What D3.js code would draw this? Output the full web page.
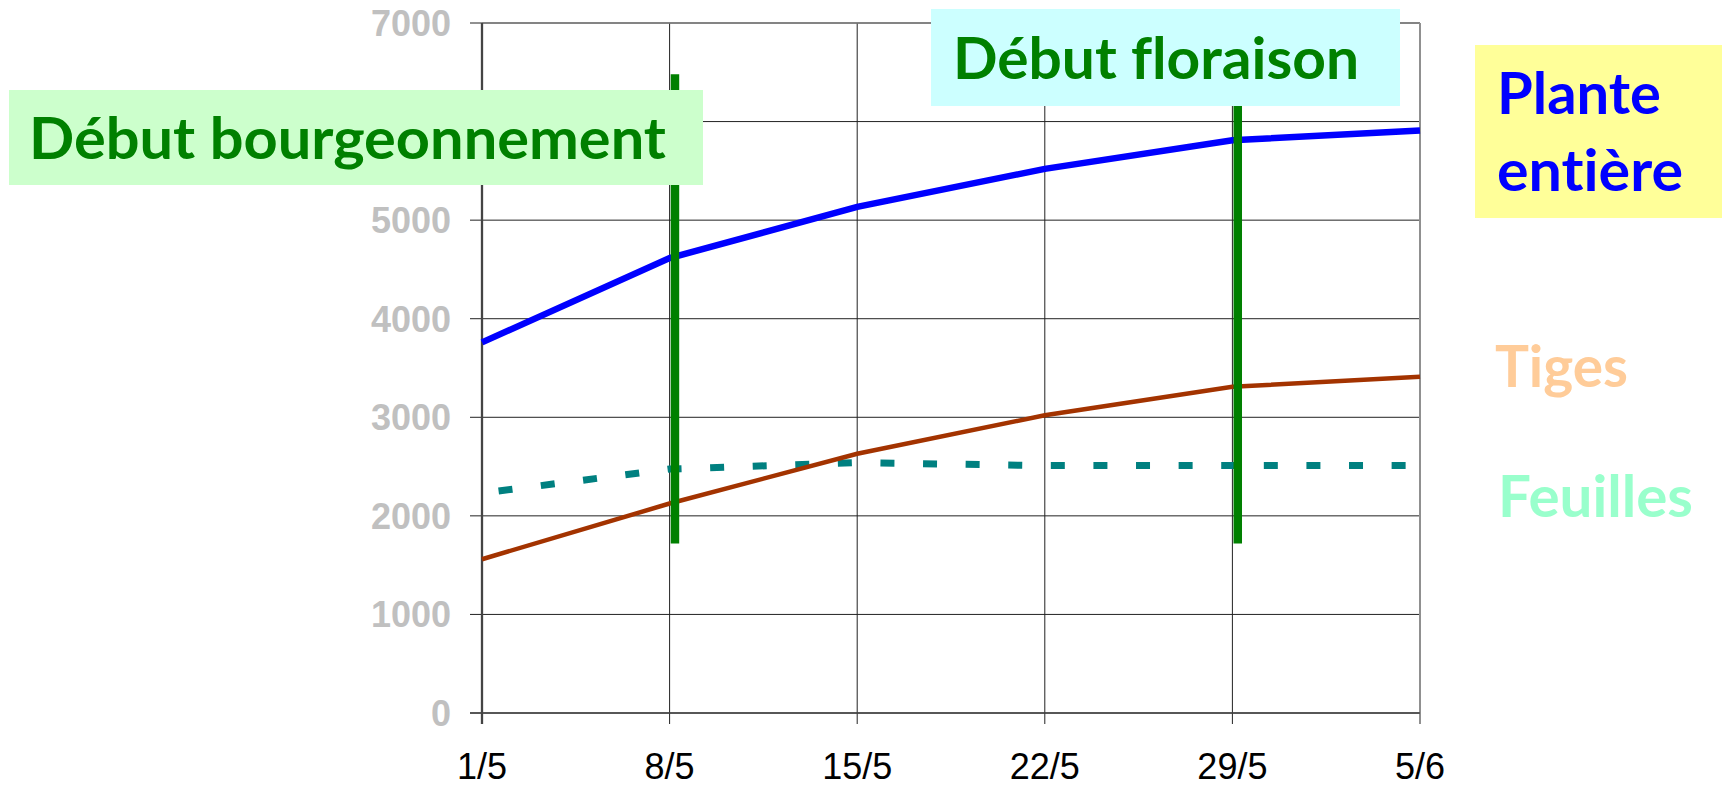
<!DOCTYPE html>
<html>
<head>
<meta charset="utf-8">
<script src="https://cdn.jsdelivr.net/npm/d3@7"></script>
<style>
  body { margin: 0; background: #fff; }
  .ytick { font-family: "Liberation Sans", Arial, sans-serif; font-weight: bold; font-size: 36px; fill: #c0c0c0; }
  .xtick { font-family: "Liberation Sans", Arial, sans-serif; font-size: 36px; fill: #000; }
  .note { font-family: Lato, "Open Sans", sans-serif; font-weight: bold; font-size: 58px;
          font-variant-ligatures: none; font-feature-settings: "liga" 0, "dlig" 0; }
</style>
</head>
<body>
<div id="chart"></div>
<script>
// dates (day offsets from 1/5) and tick labels
var dates = ["1/5", "8/5", "15/5", "22/5", "29/5", "5/6"];
var days = [0, 7, 14, 21, 28, 35];
var yTicks = [0, 1000, 2000, 3000, 4000, 5000, 6000, 7000];

// series values
var plante = [3760, 4615, 5135, 5520, 5810, 5910];
var tiges = [1560, 2125, 2630, 3020, 3310, 3410];
var feuilles = [2230, 2475, 2540, 2510, 2510, 2510];

// stage markers (vertical bars)
var markerDays = [7.2, 28.2];
var markerRange = [1720, 6480];

var margin = { top: 23, right: 302, bottom: 73, left: 482 };
var width = 1722 - margin.left - margin.right;
var height = 786 - margin.top - margin.bottom;

var svg = d3.select("#chart").append("svg")
  .attr("width", 1722)
  .attr("height", 786);

var g = svg.append("g")
  .attr("transform", "translate(" + margin.left + "," + margin.top + ")");

var x = d3.scaleLinear().domain([0, 35]).range([0, width]);
var y = d3.scaleLinear().domain([0, 7000]).range([height, 0]);

// horizontal grid + y ticks
g.selectAll(".hgrid").data(yTicks).enter().append("line")
  .attr("class", "hgrid")
  .attr("x1", -12).attr("x2", width)
  .attr("y1", function(d){ return y(d); })
  .attr("y2", function(d){ return y(d); })
  .attr("stroke", "#222").attr("stroke-width", 1);

// vertical grid + x ticks
g.selectAll(".vgrid").data(days).enter().append("line")
  .attr("class", "vgrid")
  .attr("x1", function(d){ return x(d); })
  .attr("x2", function(d){ return x(d); })
  .attr("y1", 0).attr("y2", height + 11)
  .attr("stroke", "#222").attr("stroke-width", 1);

// plot border
g.append("line").attr("x1", 0).attr("x2", width).attr("y1", 0).attr("y2", 0)
  .attr("stroke", "#808080").attr("stroke-width", 1.5);
g.append("line").attr("x1", width).attr("x2", width).attr("y1", 0).attr("y2", height + 11)
  .attr("stroke", "#909090").attr("stroke-width", 2);
g.append("line").attr("x1", -12).attr("x2", width).attr("y1", height).attr("y2", height)
  .attr("stroke", "#444").attr("stroke-width", 1.5);
g.append("line").attr("x1", 0).attr("x2", 0).attr("y1", 0).attr("y2", height + 11)
  .attr("stroke", "#444").attr("stroke-width", 2.3);

// tick labels
g.selectAll(".ytick").data(yTicks).enter().append("text")
  .attr("class", "ytick")
  .attr("text-anchor", "end")
  .attr("x", -31)
  .attr("y", function(d){ return y(d) + 13; })
  .text(function(d){ return d; });

g.selectAll(".xtick").data(days).enter().append("text")
  .attr("class", "xtick")
  .attr("text-anchor", "middle")
  .attr("x", function(d){ return x(d); })
  .attr("y", height + 66)
  .text(function(d, i){ return dates[i]; });

// lines
var line = d3.line()
  .x(function(d, i){ return x(days[i]); })
  .y(function(d){ return y(d); });

g.append("path").datum(feuilles)
  .attr("d", line).attr("fill", "none")
  .attr("stroke", "#008080").attr("stroke-width", 7)
  .attr("stroke-dasharray", "14,28.6").attr("stroke-dashoffset", 25.9);

g.append("path").datum(tiges)
  .attr("d", line).attr("fill", "none")
  .attr("stroke", "#a33300").attr("stroke-width", 4.5);

g.append("path").datum(plante)
  .attr("d", line).attr("fill", "none")
  .attr("stroke", "#0000ff").attr("stroke-width", 6.5);

// stage markers
g.selectAll(".marker").data(markerDays).enter().append("line")
  .attr("class", "marker")
  .attr("x1", function(d){ return x(d); })
  .attr("x2", function(d){ return x(d); })
  .attr("y1", y(markerRange[0]))
  .attr("y2", y(markerRange[1]))
  .attr("stroke", "#008000").attr("stroke-width", 8.5);

// annotation boxes (drawn over the chart)
function box(x0, y0, w, h, fill) {
  svg.append("rect").attr("x", x0).attr("y", y0).attr("width", w).attr("height", h).attr("fill", fill);
}
function note(txt, tx, ty, len, fill) {
  svg.append("text").attr("class", "note")
    .attr("x", tx).attr("y", ty)
    .attr("textLength", len).attr("lengthAdjust", "spacingAndGlyphs")
    .attr("fill", fill).text(txt);
}

box(9, 90, 694, 95, "#ccffcc");
note("Début bourgeonnement", 29, 159, 637, "#008000");

box(931, 9, 469, 97, "#ccffff");
note("Début floraison", 953, 79, 406, "#008000");

box(1475, 45, 260, 173, "#ffff99");
note("Plante", 1497, 114, 164, "#0000ff");
note("entière", 1497, 191, 186, "#0000ff");

note("Tiges", 1495, 387, 133, "#ffcc99");
note("Feuilles", 1498, 517, 195, "#99ffcc");
</script>
</body>
</html>
